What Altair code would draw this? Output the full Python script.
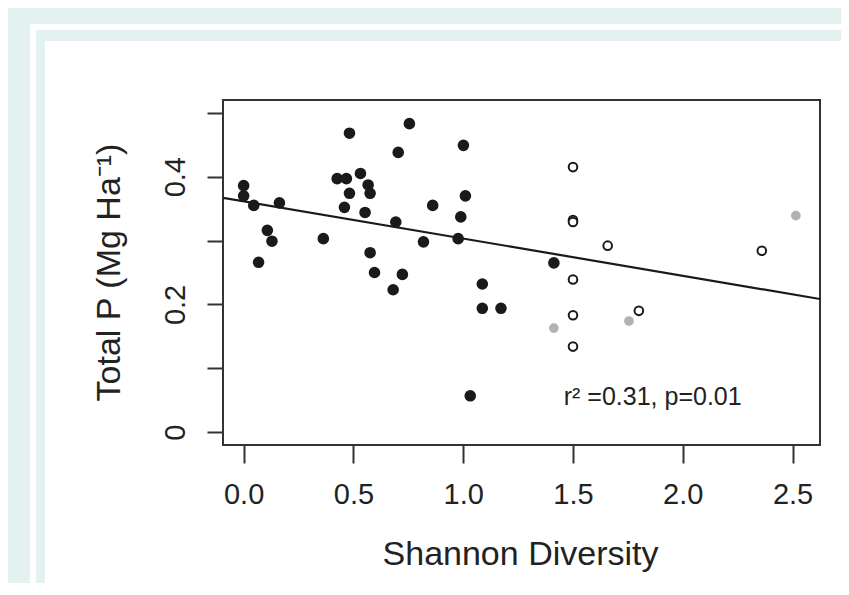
import altair as alt
import pandas as pd

# ---- data ----
filled_x = [0.482, 0.755, 0.704, 1.001, 0.532, 0.426, 0.468, 0.567, 0.576, 0.482,
            0.0, 0.0, 0.046, 0.163, 0.459, 0.553, 1.010, 0.861, 0.989, 0.693,
            0.108, 0.129, 0.363, 0.819, 0.977, 0.068, 0.576, 0.596, 0.723, 1.087,
            0.681, 1.087, 1.172, 1.032, 1.413]
filled_y = [0.468, 0.483, 0.438, 0.449, 0.405, 0.397, 0.397, 0.387, 0.374, 0.374,
            0.386, 0.370, 0.355, 0.359, 0.352, 0.344, 0.370, 0.355, 0.337, 0.329,
            0.316, 0.299, 0.303, 0.298, 0.303, 0.266, 0.281, 0.250, 0.247, 0.232,
            0.223, 0.194, 0.194, 0.057, 0.265]

open_x = [1.5, 1.5, 1.5, 1.658, 2.360, 1.5, 1.5, 1.800, 1.5]
open_y = [0.415, 0.332, 0.329, 0.292, 0.284, 0.239, 0.183, 0.190, 0.134]

gray_x = [2.515, 1.413, 1.755]
gray_y = [0.339, 0.163, 0.174]

fit_intercept = [0.3613]
fit_slope = [-0.0582]

x_limits = [-0.094, 2.625]
y_limits = [-0.02, 0.52]
x_ticks = [0.0, 0.5, 1.0, 1.5, 2.0, 2.5]
y_ticks = [0.0, 0.1, 0.2, 0.3, 0.4, 0.5]

note_x = [1.863]
note_y = [0.0553]
note_text = ["r\u00b2 =0.31, p=0.01"]

x_title = "Shannon Diversity"
y_title = "Total P (Mg Ha\u207b\u00b9)"

# ---- tables ----
df_filled = pd.DataFrame({"x": filled_x, "y": filled_y})
df_open = pd.DataFrame({"x": open_x, "y": open_y})
df_gray = pd.DataFrame({"x": gray_x, "y": gray_y})
df_line = pd.DataFrame({
    "x": x_limits,
    "y": [fit_intercept[0] + fit_slope[0] * v for v in x_limits],
})
df_note = pd.DataFrame({"x": note_x, "y": note_y, "t": note_text})

TEAL = "#e3f1f0"
INK = "#1a1a1a"
W, H = 597, 345

xscale = alt.Scale(domain=x_limits, nice=False, zero=False)
yscale = alt.Scale(domain=y_limits, nice=False, zero=False)

xaxis = alt.Axis(
    values=x_ticks, format=".1f", title=x_title, grid=False, domain=False,
    tickSize=18, tickWidth=2, tickColor="#333",
    labelFontSize=29, labelColor="#222", labelPadding=40,
    labelBaseline="alphabetic", labelFlush=False, labelOverlap=False,
    titleFontSize=34, titleFontWeight="normal", titleColor="#222",
    titleBaseline="alphabetic", titleX=297, titleY=119, titleAlign="center",
    zindex=1,
)
yaxis = alt.Axis(
    values=y_ticks, title=y_title, grid=False, domain=False,
    labelExpr="(round(datum.value*10) % 2 == 0 && datum.value < 0.45) ? format(datum.value, '~g') : ''",
    tickSize=16, tickWidth=2, tickColor="#333",
    labelFontSize=29, labelColor="#222", labelPadding=23,
    labelAngle=270, labelAlign="center", labelBaseline="alphabetic",
    labelFlush=False, labelOverlap=False,
    titleFontSize=34, titleFontWeight="normal", titleColor="#222",
    titleAngle=270, titleBaseline="alphabetic", titleAlign="center",
    titleX=-104, titleY=172,
    zindex=1,
)

one = alt.Data(values=[{"a": 1}])


def band(x1, x2, y1, y2):
    return alt.Chart(one).mark_rect(color=TEAL).encode(
        x=alt.value(x1), x2=alt.value(x2), y=alt.value(y1), y2=alt.value(y2)
    )


bands = [
    band(-223, 640, -100, -76),
    band(-223, -193, -100, 500),
    band(-187, 640, -70, -59),
    band(-187, -178, -70, 500),
]

filled = alt.Chart(df_filled).mark_circle(size=135, color=INK, opacity=1).encode(
    x=alt.X("x:Q", scale=xscale, axis=xaxis),
    y=alt.Y("y:Q", scale=yscale, axis=yaxis),
)
opened = alt.Chart(df_open).mark_point(
    shape="circle", filled=False, size=74, stroke=INK, strokeWidth=2, fill="white", fillOpacity=1
).encode(x=alt.X("x:Q", scale=xscale), y=alt.Y("y:Q", scale=yscale))
gray = alt.Chart(df_gray).mark_circle(size=95, color="#aaaaaa", opacity=0.9).encode(
    x=alt.X("x:Q", scale=xscale), y=alt.Y("y:Q", scale=yscale)
)
line = alt.Chart(df_line).mark_line(color=INK, strokeWidth=2.2, clip=True).encode(
    x=alt.X("x:Q", scale=xscale), y=alt.Y("y:Q", scale=yscale)
)
note = alt.Chart(df_note).mark_text(
    fontSize=25, color="#222", align="center", baseline="middle"
).encode(x=alt.X("x:Q", scale=xscale), y=alt.Y("y:Q", scale=yscale), text="t:N")

chart = alt.layer(*bands, line, filled, opened, gray, note).properties(
    width=W, height=H,
    autosize=alt.AutoSizeParams(type="none"),
    padding={"left": 215, "top": 92, "right": 21, "bottom": 138},
    background="white",
).configure(font="Liberation Sans").configure_view(stroke="#333", strokeWidth=2)

chart.save("out.html", embed_options={"renderer": "svg", "actions": False})
